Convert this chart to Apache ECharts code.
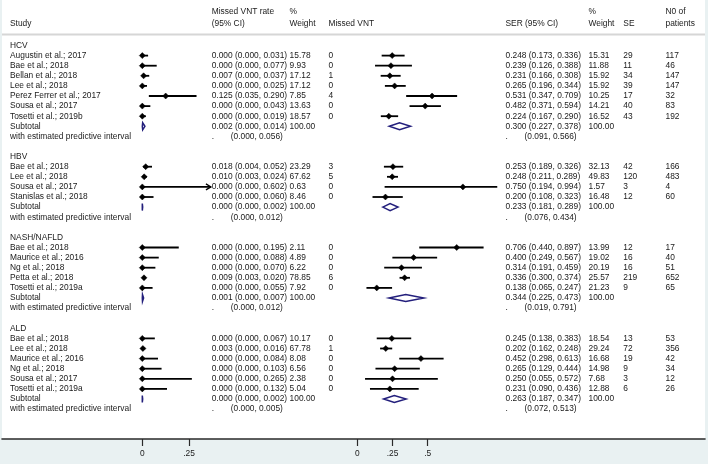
<!DOCTYPE html>
<html><head><meta charset="utf-8">
<script src="https://cdn.jsdelivr.net/npm/echarts@6/dist/echarts.min.js"></script>
<style>html,body{margin:0;padding:0;background:#e9f1f2;}#c{width:708px;height:464px;}</style>
</head><body><div id="c"></div>
<script>
// ---------- DATA ----------
const groups = ['HCV', 'HBV', 'NASH/NAFLD', 'ALD'];
const studyGroup = [0,0,0,0,0,0,0, 1,1,1,1, 2,2,2,2,2, 3,3,3,3,3,3];
const studyNames = [
  'Augustin et al.; 2017','Bae et al.; 2018','Bellan et al.; 2018','Lee et al.; 2018','Perez Ferrer et al.; 2017','Sousa et al.; 2017','Tosetti et al.; 2019b',
  'Bae et al.; 2018','Lee et al.; 2018','Sousa et al.; 2017','Stanislas et al.; 2018',
  'Bae et al.; 2018','Maurice et al.; 2016','Ng et al.; 2018','Petta et al.; 2018','Tosetti et al.; 2019a',
  'Bae et al.; 2018','Lee et al.; 2018','Maurice et al.; 2016','Ng et al.; 2018','Sousa et al.; 2017','Tosetti et al.; 2019a'
];
const rate       = [0,0,0.007,0,0.125,0,0, 0.018,0.010,0,0, 0,0,0,0.009,0, 0,0.003,0,0,0,0];
const rateLo     = [0,0,0,0,0.035,0,0, 0.004,0.003,0,0, 0,0,0,0.003,0, 0,0,0,0,0,0];
const rateHi     = [0.031,0.077,0.037,0.025,0.290,0.043,0.019, 0.052,0.024,0.602,0.060, 0.195,0.088,0.070,0.020,0.055, 0.067,0.016,0.084,0.103,0.265,0.132];
const rateWeight = [15.78,9.93,17.12,17.12,7.85,13.63,18.57, 23.29,67.62,0.63,8.46, 2.11,4.89,6.22,78.85,7.92, 10.17,67.78,8.08,6.56,2.38,5.04];
const missedVNT  = [0,0,1,0,4,0,0, 3,5,0,0, 0,0,0,6,0, 0,1,0,0,0,0];
const ser        = [0.248,0.239,0.231,0.265,0.531,0.482,0.224, 0.253,0.248,0.750,0.200, 0.706,0.400,0.314,0.336,0.138, 0.245,0.202,0.452,0.265,0.250,0.231];
const serLo      = [0.173,0.126,0.166,0.196,0.347,0.371,0.167, 0.189,0.211,0.194,0.108, 0.440,0.249,0.191,0.300,0.065, 0.138,0.162,0.298,0.129,0.055,0.090];
const serHi      = [0.336,0.388,0.308,0.344,0.709,0.594,0.290, 0.326,0.289,0.994,0.323, 0.897,0.567,0.459,0.374,0.247, 0.383,0.248,0.613,0.444,0.572,0.436];
const serWeight  = [15.31,11.88,15.92,15.92,10.25,14.21,16.52, 32.13,49.83,1.57,16.48, 13.99,19.02,20.19,25.57,21.23, 18.54,29.24,16.68,14.98,7.68,12.88];
const seCount    = [29,11,34,39,17,40,43, 42,120,3,12, 12,16,16,219,9, 13,72,19,9,3,6];
const patients   = [117,46,147,147,32,83,192, 166,483,4,60, 17,40,51,652,65, 53,356,42,34,12,26];

const subRate   = [0.002,0.000,0.001,0.000];
const subRateLo = [0.000,0.000,0.000,0.000];
const subRateHi = [0.014,0.002,0.007,0.002];
const piRateLo  = [0.000,0.000,0.000,0.000];
const piRateHi  = [0.056,0.012,0.012,0.005];
const subSer    = [0.300,0.233,0.344,0.263];
const subSerLo  = [0.227,0.181,0.225,0.187];
const subSerHi  = [0.378,0.289,0.473,0.347];
const piSerLo   = [0.091,0.076,0.019,0.072];
const piSerHi   = [0.566,0.434,0.791,0.513];

const tickLeft  = [0, 0.25];
const tickRight = [0, 0.25, 0.5];

const headerTop    = [['Missed VNT rate','rate'],['%','wL'],['%','wR'],['N0 of','n']];
const headerBottom = [['Study','study'],['(95% CI)','rate'],['Weight','wL'],['Missed VNT','missed'],['SER (95% CI)','ser'],['Weight','wR'],['SE','se'],['patients','n']];

// ---------- LAYOUT ----------
const FONT_FAMILY = '"Liberation Sans", Arial, Helvetica, sans-serif';
const FS = 8.4;
const FONT = FS + 'px ' + FONT_FAMILY;
const TXT = '#1a1a1a';
const NAVY = '#231f7c';
const COL = {study:10, rate:211.7, wL:289.6, missed:328.5, ser:505.5, wR:588.5, se:623.3, n:665.5};
const PI_OFF = 19;
const GRID_TOP = 35.4, GRID_H = 403.6;
const Y_MIN = -1, Y_MAX = 38.96;
const L_MIN = -0.05, L_MAX = 0.367;
const R_MIN = -0.1, R_MAX = 1.0;

// ---------- ROWS ----------
const f3 = v => v.toFixed(3);
const ci = (e, l, h) => `${f3(e)} (${f3(l)}, ${f3(h)})`;
const textLines = [];
const studyRow = [], subRow = [];
let r = 0;
groups.forEach((g, gi) => {
  textLines.push({row: r, items: [{x: COL.study, s: g}]}); r++;
  studyNames.forEach((nm, i) => {
    if (studyGroup[i] !== gi) return;
    studyRow[i] = r;
    textLines.push({row: r, items: [
      {x: COL.study, s: nm},
      {x: COL.rate, s: ci(rate[i], rateLo[i], rateHi[i])},
      {x: COL.wL, s: rateWeight[i].toFixed(2)},
      {x: COL.missed, s: String(missedVNT[i])},
      {x: COL.ser, s: ci(ser[i], serLo[i], serHi[i])},
      {x: COL.wR, s: serWeight[i].toFixed(2)},
      {x: COL.se, s: String(seCount[i])},
      {x: COL.n, s: String(patients[i])}
    ]});
    r++;
  });
  subRow[gi] = r;
  textLines.push({row: r, items: [
    {x: COL.study, s: 'Subtotal'},
    {x: COL.rate, s: ci(subRate[gi], subRateLo[gi], subRateHi[gi])},
    {x: COL.wL, s: '100.00'},
    {x: COL.ser, s: ci(subSer[gi], subSerLo[gi], subSerHi[gi])},
    {x: COL.wR, s: '100.00'}
  ]});
  r++;
  textLines.push({row: r, items: [
    {x: COL.study, s: 'with estimated predictive interval'},
    {x: COL.rate, s: '.'},
    {x: COL.rate + PI_OFF, s: `(${f3(piRateLo[gi])}, ${f3(piRateHi[gi])})`},
    {x: COL.ser, s: '.'},
    {x: COL.ser + PI_OFF, s: `(${f3(piSerLo[gi])}, ${f3(piSerHi[gi])})`}
  ]});
  r++;
  r++; // blank
});

const leftStudies = studyNames.map((_, i) => [rate[i], rateLo[i], rateHi[i], studyRow[i]]);
const rightStudies = studyNames.map((_, i) => [ser[i], serLo[i], serHi[i], studyRow[i]]);
const leftSubs = groups.map((_, g) => [subRate[g], subRateLo[g], subRateHi[g], subRow[g]]);
const rightSubs = groups.map((_, g) => [subSer[g], subSerLo[g], subSerHi[g], subRow[g]]);

// ---------- RENDERERS ----------
function makeCI(xmax) {
  return function (params, api) {
    const est = api.value(0), lo = api.value(1), hi = api.value(2), row = api.value(3);
    const y = api.coord([0, row])[1];
    const clipped = hi > xmax;
    const xl = api.coord([lo, row])[0];
    const xh = api.coord([clipped ? xmax : hi, row])[0];
    const xe = api.coord([est, row])[0];
    const ch = [
      {type: 'line', shape: {x1: xl, y1: y, x2: xh, y2: y}, style: {stroke: '#000', lineWidth: 1.8}},
      {type: 'polygon', shape: {points: [[xe - 3, y], [xe, y - 3], [xe + 3, y], [xe, y + 3]]}, style: {fill: '#000', stroke: '#000', lineWidth: 0.5}}
    ];
    if (clipped) {
      ch.push({type: 'polyline', shape: {points: [[xh - 5, y - 3], [xh, y], [xh - 5, y + 3]]}, style: {stroke: '#000', lineWidth: 1.3, fill: null}});
    }
    return {type: 'group', children: ch};
  };
}
function renderDiamond(params, api) {
  const est = api.value(0), lo = api.value(1), hi = api.value(2), row = api.value(3);
  const y = api.coord([0, row])[1];
  const xl = api.coord([lo, row])[0], xh = api.coord([hi, row])[0], xe = api.coord([est, row])[0];
  return {type: 'polygon', shape: {points: [[xl, y], [xe, y - 3.5], [xh, y], [xe, y + 3.5]]},
          style: {fill: '#fff', stroke: NAVY, lineWidth: 1.5}};
}
function renderText(params, api) {
  const line = textLines[params.dataIndex];
  const y = api.coord([0, line.row])[1];
  return {type: 'group', children: line.items.map(it => ({
    type: 'text', x: it.x, y: y,
    style: {text: it.s, font: FONT, fill: TXT, textAlign: 'left', align: 'left', textVerticalAlign: 'middle', verticalAlign: 'middle'}
  }))};
}
const tickFmt = v => (v === 0 ? '0' : String(v).replace(/^0/, ''));

const headerGraphics = [];
headerTop.forEach(([s, c]) => headerGraphics.push({type: 'text', x: COL[c], y: 12, style: {text: s, font: FONT, fill: TXT, textAlign: 'left', textVerticalAlign: 'middle', align: 'left', verticalAlign: 'middle'}}));
headerBottom.forEach(([s, c]) => headerGraphics.push({type: 'text', x: COL[c], y: 23.3, style: {text: s, font: FONT, fill: TXT, textAlign: 'left', textVerticalAlign: 'middle', align: 'left', verticalAlign: 'middle'}}));

const gridBase = {top: GRID_TOP, height: GRID_H, containLabel: false, outerBoundsMode: 'none'};
const xBase = {
  type: 'value', splitLine: {show: false},
  axisLine: {show: false, onZero: false}
};
const chart = echarts.init(document.getElementById('c'), null, {renderer: 'canvas'});
chart.setOption({
  animation: false,
  backgroundColor: 'transparent',
  graphic: [
    {type: 'rect', z: -100, shape: {x: 2, y: 0, width: 703, height: 439}, style: {fill: '#fff'}, silent: true},
    {type: 'line', shape: {x1: 2, y1: 34.5, x2: 705, y2: 34.5}, style: {stroke: '#d6d6d6', lineWidth: 2}, silent: true},
    ...headerGraphics
  ],
  grid: [
    Object.assign({left: 2, width: 703}, gridBase),
    Object.assign({left: 142.3 + L_MIN * 187, width: (L_MAX - L_MIN) * 187}, gridBase),
    Object.assign({left: 357.3 + R_MIN * 140.8, width: (R_MAX - R_MIN) * 140.8}, gridBase)
  ],
  xAxis: [
    Object.assign({}, xBase, {gridIndex: 0, min: 0, max: 1, position: 'bottom',
      axisLine: {show: true, onZero: false, lineStyle: {color: '#2a2a2a', width: 1.6}},
      axisTick: {show: false}, axisLabel: {show: false}}),
    Object.assign({}, xBase, {gridIndex: 1, min: L_MIN, max: L_MAX, position: 'bottom',
      axisTick: {show: true, length: 7, customValues: tickLeft, lineStyle: {color: '#2a2a2a', width: 1.2}},
      axisLabel: {show: true, customValues: tickLeft, formatter: tickFmt, margin: 11, fontSize: FS, fontFamily: FONT_FAMILY, color: TXT}}),
    Object.assign({}, xBase, {gridIndex: 2, min: R_MIN, max: R_MAX, position: 'bottom',
      axisTick: {show: true, length: 7, customValues: tickRight, lineStyle: {color: '#2a2a2a', width: 1.2}},
      axisLabel: {show: true, customValues: tickRight, formatter: tickFmt, margin: 11, fontSize: FS, fontFamily: FONT_FAMILY, color: TXT}})
  ],
  yAxis: [0, 1, 2].map(i => ({gridIndex: i, type: 'value', min: Y_MIN, max: Y_MAX, inverse: true, show: false})),
  series: [
    {type: 'custom', name: 'text', xAxisIndex: 0, yAxisIndex: 0, renderItem: renderText,
     data: textLines.map(l => [0, l.row]), encode: {x: 0, y: 1}, silent: true},
    {type: 'custom', name: 'Missed VNT rate', xAxisIndex: 1, yAxisIndex: 1, renderItem: makeCI(L_MAX),
     data: leftStudies, encode: {x: [0, 1, 2], y: 3}, silent: true},
    {type: 'custom', name: 'Missed VNT rate subtotal', xAxisIndex: 1, yAxisIndex: 1, renderItem: renderDiamond,
     data: leftSubs, encode: {x: [0, 1, 2], y: 3}, silent: true},
    {type: 'custom', name: 'SER', xAxisIndex: 2, yAxisIndex: 2, renderItem: makeCI(R_MAX),
     data: rightStudies, encode: {x: [0, 1, 2], y: 3}, silent: true},
    {type: 'custom', name: 'SER subtotal', xAxisIndex: 2, yAxisIndex: 2, renderItem: renderDiamond,
     data: rightSubs, encode: {x: [0, 1, 2], y: 3}, silent: true}
  ]
});
</script>
</body></html>
